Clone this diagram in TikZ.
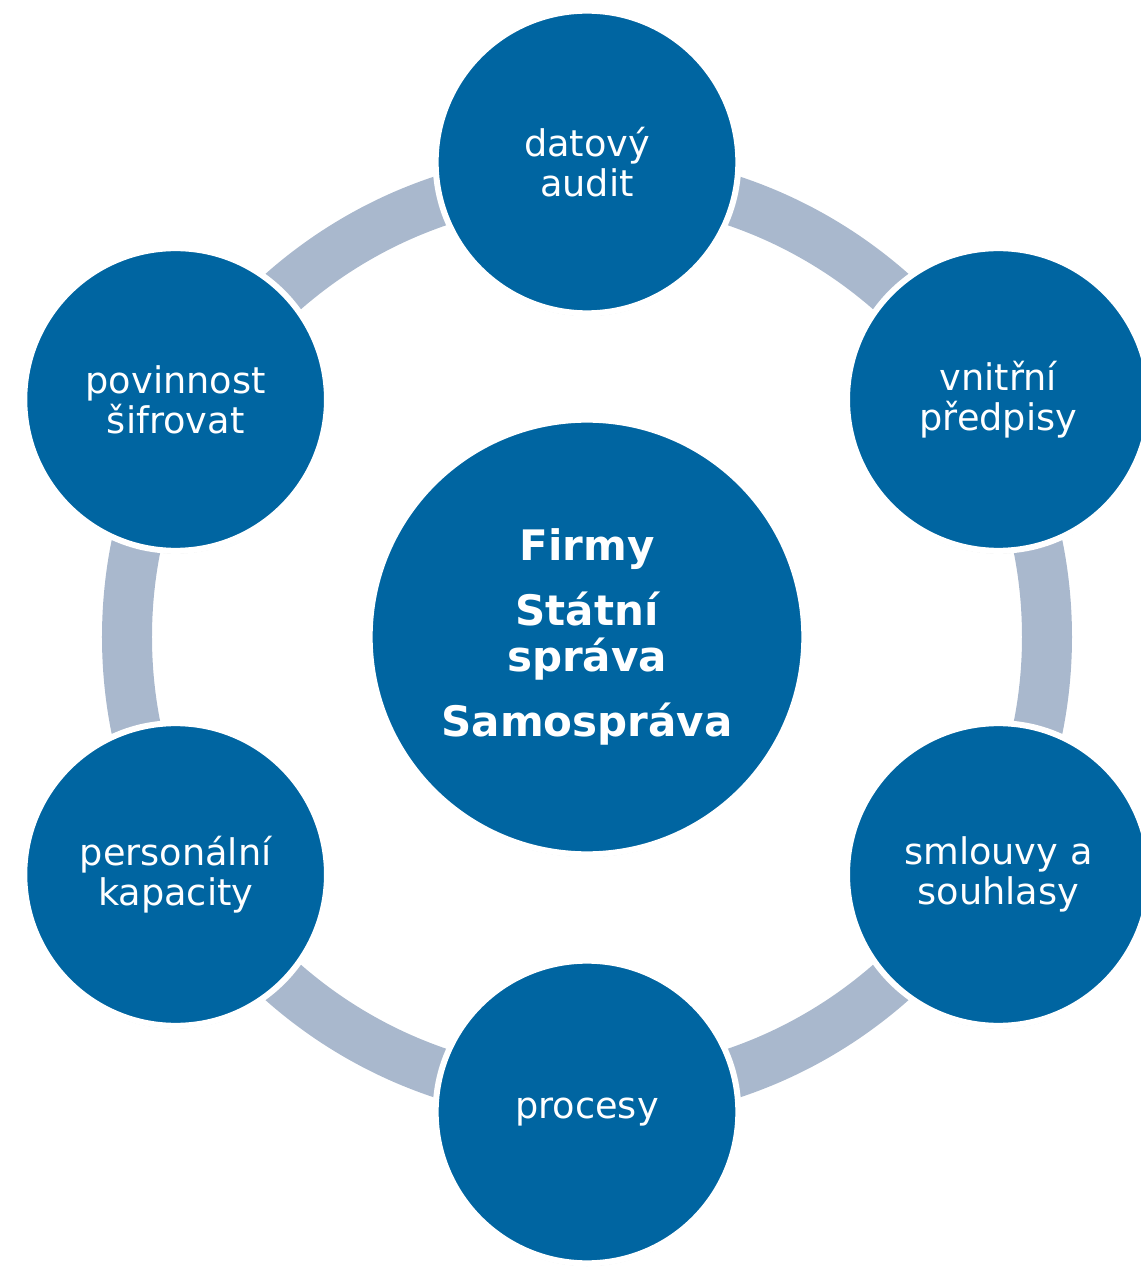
\documentclass[tikz,border=0pt]{standalone}
\usepackage{fontspec}
\setmainfont{DejaVu Sans}
\usetikzlibrary{shadows}
\definecolor{ringgray}{HTML}{A9B8CD}
\definecolor{discblue}{HTML}{0065A1}

\begin{document}
\begin{tikzpicture}[x=0.75pt,y=0.75pt,
  disc/.style={circle,fill=discblue,draw=white,line width=4.5pt,text=white,
    align=center,inner sep=0pt,
    drop shadow={shadow xshift=0pt,shadow yshift=-2pt,opacity=0.2,fill=black}},
  topic/.style={disc,minimum size=227pt,font=\fontsize{27.5}{30}\selectfont},
  hub/.style={disc,minimum size=326pt,font=\fontsize{31.5}{34}\selectfont\bfseries}]
\useasboundingbox (-587,637) rectangle (554,-633);

% ring behind the discs
\draw[ringgray,line width=37.5pt] (0,0) circle [radius=460];

\node[hub] (org) at (0,0) {Firmy\\[15pt]Státní\\správa\\[15pt]Samospráva};

\node[topic] (audit) at (90:475) {datový\\audit};
\node[topic] (predpisy) at (30:475) {vnitřní\\předpisy};
\node[topic] (smlouvy) at (-30:475) {smlouvy a\\souhlasy};
\node[topic] (procesy) at (-90:475) {procesy};
\node[topic] (kapacity) at (210:475) {personální\\kapacity};
\node[topic] (sifrovat) at (150:475) {povinnost\\šifrovat};

\end{tikzpicture}
\end{document}
